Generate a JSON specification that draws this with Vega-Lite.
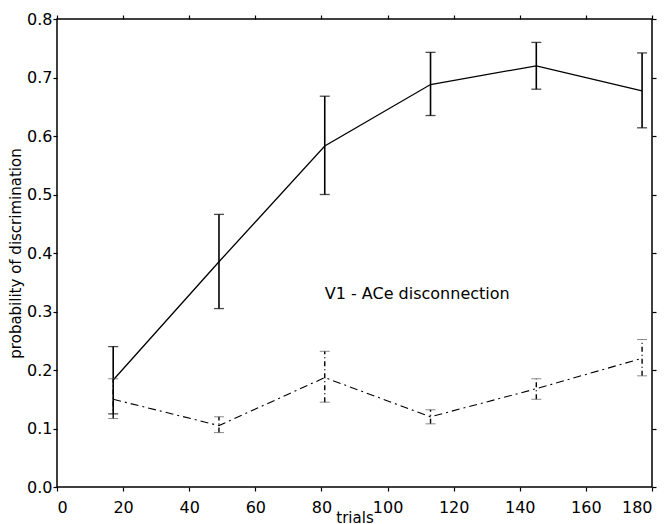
{
  "$schema": "https://vega.github.io/schema/vega-lite/v6.json",
  "width": 595,
  "height": 468,
  "autosize": {"type": "none"},
  "padding": {"left": 57, "top": 19, "right": 16, "bottom": 37},
  "background": "white",
  "config": {
    "font": "DejaVu Sans",
    "view": {"stroke": "black", "strokeWidth": 1.5},
    "axis": {"grid": false, "domain": false, "ticks": true, "tickColor": "black", "tickWidth": 1.2, "tickSize": 4, "labelFontSize": 16, "labelColor": "black", "titleFontSize": 15, "titleFontWeight": "normal", "titleColor": "black", "labelFont": "DejaVu Sans", "titleFont": "DejaVu Sans"}
  },
  "datasets": {
    "pts": [
      {"trials": 17, "p": 0.183, "lo": 0.125, "hi": 0.24, "series": "intact"},
      {"trials": 49, "p": 0.385, "lo": 0.305, "hi": 0.466, "series": "intact"},
      {"trials": 81, "p": 0.583, "lo": 0.5, "hi": 0.668, "series": "intact"},
      {"trials": 113, "p": 0.688, "lo": 0.635, "hi": 0.743, "series": "intact"},
      {"trials": 145, "p": 0.72, "lo": 0.68, "hi": 0.76, "series": "intact"},
      {"trials": 177, "p": 0.677, "lo": 0.614, "hi": 0.742, "series": "intact"},
      {"trials": 17, "p": 0.15, "lo": 0.117, "hi": 0.185, "series": "disconnected"},
      {"trials": 49, "p": 0.105, "lo": 0.093, "hi": 0.12, "series": "disconnected"},
      {"trials": 81, "p": 0.187, "lo": 0.145, "hi": 0.232, "series": "disconnected"},
      {"trials": 113, "p": 0.12, "lo": 0.108, "hi": 0.132, "series": "disconnected"},
      {"trials": 145, "p": 0.168, "lo": 0.15, "hi": 0.185, "series": "disconnected"},
      {"trials": 177, "p": 0.22, "lo": 0.19, "hi": 0.252, "series": "disconnected"}
    ],
    "note": [{"trials": 81, "p": 0.33, "label": "V1 - ACe disconnection"}]
  },
  "layer": [
    {
      "data": {"name": "pts"},
      "transform": [{"filter": "datum.series == 'intact'"}],
      "mark": {"type": "line", "color": "black", "strokeWidth": 1.3},
      "encoding": {
        "x": {"field": "trials", "type": "quantitative", "scale": {"domain": [0, 180], "nice": false}, "axis": {"values": [0,20,40,60,80,100,120,140,160,180], "title": "trials", "labelPadding": 8, "titlePadding": -5}},
        "y": {"field": "p", "type": "quantitative", "scale": {"domain": [0, 0.8], "nice": false}, "axis": {"values": [0,0.1,0.2,0.3,0.4,0.5,0.6,0.7,0.8], "title": "probability of discrimination", "labelPadding": 1, "titlePadding": 3}}
      }
    },
    {
      "data": {"name": "pts"},
      "transform": [{"filter": "datum.series == 'disconnected'"}],
      "mark": {"type": "line", "color": "black", "strokeWidth": 1.1, "strokeDash": [8, 4, 2, 4]},
      "encoding": {
        "x": {"field": "trials", "type": "quantitative", "axis": null},
        "y": {"field": "p", "type": "quantitative", "axis": null}
      }
    },
    {
      "data": {"name": "pts"},
      "transform": [{"filter": "datum.series == 'intact'"}],
      "mark": {"type": "rule", "color": "black", "strokeWidth": 1.6},
      "encoding": {
        "x": {"field": "trials", "type": "quantitative", "axis": null},
        "y": {"field": "lo", "type": "quantitative", "axis": null},
        "y2": {"field": "hi"}
      }
    },
    {
      "data": {"name": "pts"},
      "transform": [{"filter": "datum.series == 'intact'"}, {"fold": ["lo", "hi"], "as": ["end", "val"]}],
      "mark": {"type": "tick", "color": "black", "orient": "horizontal", "size": 10, "thickness": 1.3},
      "encoding": {
        "x": {"field": "trials", "type": "quantitative", "axis": null},
        "y": {"field": "val", "type": "quantitative", "axis": null}
      }
    },
    {
      "data": {"name": "pts"},
      "transform": [{"filter": "datum.series == 'disconnected'"}],
      "mark": {"type": "rule", "color": "black", "strokeWidth": 1.4, "strokeDash": [5, 3, 1, 3]},
      "encoding": {
        "x": {"field": "trials", "type": "quantitative", "axis": null},
        "y": {"field": "lo", "type": "quantitative", "axis": null},
        "y2": {"field": "hi"}
      }
    },
    {
      "data": {"name": "pts"},
      "transform": [{"filter": "datum.series == 'disconnected'"}, {"fold": ["lo", "hi"], "as": ["end", "val"]}],
      "mark": {"type": "tick", "color": "#555", "orient": "horizontal", "size": 10, "thickness": 1, "strokeDash": [1.5, 2]},
      "encoding": {
        "x": {"field": "trials", "type": "quantitative", "axis": null},
        "y": {"field": "val", "type": "quantitative", "axis": null}
      }
    },
    {
      "data": {"name": "note"},
      "mark": {"type": "text", "align": "left", "baseline": "middle", "fontSize": 16, "color": "black", "font": "DejaVu Sans"},
      "encoding": {
        "x": {"field": "trials", "type": "quantitative", "axis": null},
        "y": {"field": "p", "type": "quantitative", "axis": null},
        "text": {"field": "label"}
      }
    },
    {
      "data": {"name": "note"},
      "mark": {"type": "point", "opacity": 0},
      "encoding": {
        "x": {"field": "trials", "type": "quantitative", "axis": {"orient": "top", "values": [0,20,40,60,80,100,120,140,160,180], "labels": false, "title": null}},
        "y": {"field": "p", "type": "quantitative", "axis": {"orient": "right", "values": [0,0.1,0.2,0.3,0.4,0.5,0.6,0.7,0.8], "labels": false, "title": null}}
      }
    }
  ],
  "resolve": {"axis": {"x": "independent", "y": "independent"}}
}
